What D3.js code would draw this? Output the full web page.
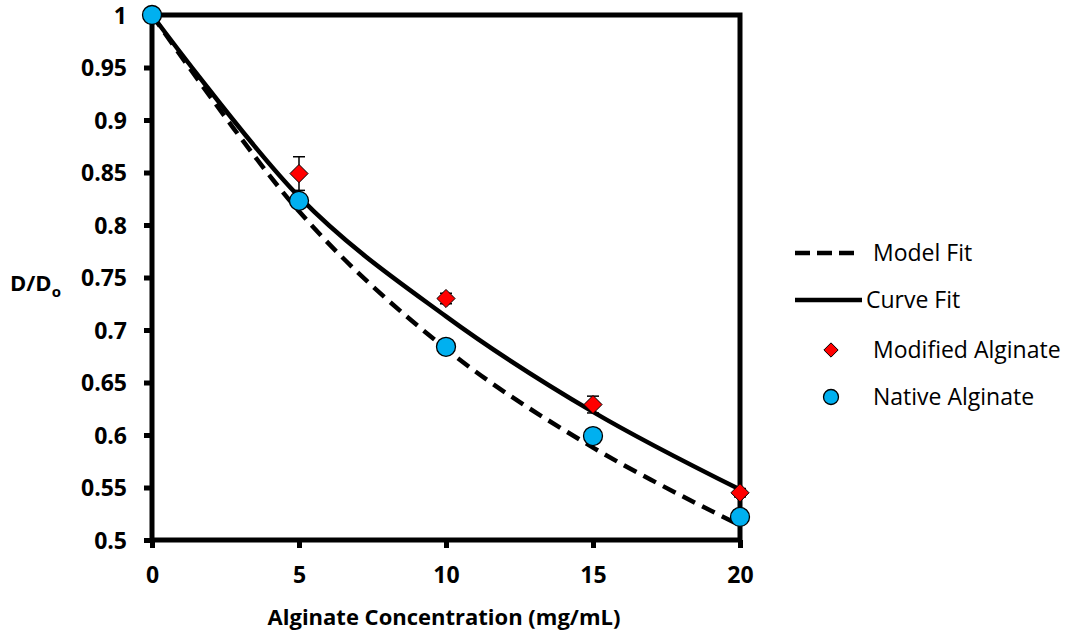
<!DOCTYPE html>
<html>
<head>
<meta charset="utf-8">
<script src="https://cdn.jsdelivr.net/npm/d3@7"></script>
<style>
  html, body { margin: 0; padding: 0; background: #fff; }
  svg { display: block; }
  text { font-family: "Open Sans", "DejaVu Sans", sans-serif; fill: #000; }
</style>
</head>
<body>
<svg id="chart" width="1070" height="632"></svg>
<script>
// Alginate concentration (mg/mL) for the measured points
const concentrations = [0, 5, 10, 15, 20];
// Relative diffusivity D/Do
const nativeValues   = [1.0, 0.823, 0.684, 0.599, 0.522];
const modifiedValues = [1.0, 0.849, 0.730, 0.629, 0.545];
const modifiedErrors = [0.004, 0.016, 0.005, 0.008, 0.004];

// Fitted curves at the same concentrations (drawn as smoothed lines)
const fitConcentrations = [0, 5, 10, 15, 20];
const modelFit = [1.0, 0.813, 0.682, 0.588, 0.514];
const curveFit = [1.0, 0.827, 0.713, 0.622, 0.548];

const xTicks = [0, 5, 10, 15, 20];
const yTicks = [0.5, 0.55, 0.6, 0.65, 0.7, 0.75, 0.8, 0.85, 0.9, 0.95, 1];

const legendItems = ["Model Fit", "Curve Fit", "Modified Alginate", "Native Alginate"];

const svg = d3.select("#chart");
const plot = { left: 152, right: 740, top: 15, bottom: 540 };

const x = d3.scaleLinear().domain([0, 20]).range([plot.left, plot.right]);
const y = d3.scaleLinear().domain([0.5, 1]).range([plot.bottom, plot.top]);

// Axes with outward ticks
const yAxis = d3.axisLeft(y).tickValues(yTicks).tickSize(8).tickFormat(d => String(+d.toFixed(2)));
const xAxis = d3.axisBottom(x).tickValues(xTicks).tickSize(8);

const gy = svg.append("g").attr("transform", `translate(${plot.left},0)`).call(yAxis);
const gx = svg.append("g").attr("transform", `translate(0,${plot.bottom})`).call(xAxis);

[gy, gx].forEach(g => {
  g.select(".domain").remove();
  g.selectAll(".tick line").attr("stroke", "#000").attr("stroke-width", 5);
  g.selectAll(".tick text")
    .style("font-family", '"Open Sans", sans-serif')
    .style("font-weight", "bold")
    .style("font-size", "23px")
    .attr("fill", "#000");
});
gy.selectAll(".tick text").attr("x", -25).attr("dy", "0.35em");
gx.selectAll(".tick text").attr("y", 27).attr("dy", "0.71em");

// Plot frame
svg.append("rect")
  .attr("x", plot.left).attr("y", plot.top)
  .attr("width", plot.right - plot.left).attr("height", plot.bottom - plot.top)
  .attr("fill", "none").attr("stroke", "#000").attr("stroke-width", 5);

// Fit curves, smoothed through the fitted values
const line = d3.line()
  .x((d, i) => x(fitConcentrations[i]))
  .y(d => y(d))
  .curve(d3.curveCardinal.tension(0));

svg.append("path").datum(modelFit)
  .attr("d", line).attr("fill", "none")
  .attr("stroke", "#000").attr("stroke-width", 4.5)
  .attr("stroke-dasharray", "14,8");

svg.append("path").datum(curveFit)
  .attr("d", line).attr("fill", "none")
  .attr("stroke", "#000").attr("stroke-width", 4.5);

// Modified alginate: error bars + diamonds
const diamond = d3.symbol().type(d3.symbolDiamond2).size(210);
const modG = svg.append("g");
concentrations.forEach((c, i) => {
  const cx = x(c), v = modifiedValues[i], e = modifiedErrors[i];
  modG.append("line").attr("x1", cx).attr("x2", cx)
    .attr("y1", y(v - e)).attr("y2", y(v + e))
    .attr("stroke", "#000").attr("stroke-width", 1.5);
  [v - e, v + e].forEach(w => {
    modG.append("line").attr("x1", cx - 6).attr("x2", cx + 6)
      .attr("y1", y(w)).attr("y2", y(w))
      .attr("stroke", "#000").attr("stroke-width", 1.5);
  });
  modG.append("path").attr("d", diamond)
    .attr("transform", `translate(${cx},${y(v)})`)
    .attr("fill", "#ff0000").attr("stroke", "#000").attr("stroke-width", 1);
});

// Native alginate circles
svg.append("g").selectAll("circle")
  .data(concentrations)
  .join("circle")
  .attr("cx", d => x(d))
  .attr("cy", (d, i) => y(nativeValues[i]))
  .attr("r", 9.5)
  .attr("fill", "#00b0f0").attr("stroke", "#000").attr("stroke-width", 1.3);

// Axis titles
svg.append("text")
  .attr("x", (plot.left + plot.right) / 2 - 2).attr("y", 625)
  .attr("text-anchor", "middle")
  .style("font-weight", "bold").style("font-size", "22px")
  .text("Alginate Concentration (mg/mL)");

const yTitle = svg.append("text")
  .attr("x", 10).attr("y", 291)
  .style("font-weight", "bold").style("font-size", "22px");
yTitle.append("tspan").text("D/D");
yTitle.append("tspan").attr("dy", 6).style("font-size", "15px").text("o");

// Legend
const legendY = [253, 300, 350, 397];
const lg = svg.append("g");
lg.append("line").attr("x1", 795).attr("x2", 858).attr("y1", legendY[0]).attr("y2", legendY[0])
  .attr("stroke", "#000").attr("stroke-width", 4.5).attr("stroke-dasharray", "15,7");
lg.append("line").attr("x1", 795).attr("x2", 862).attr("y1", legendY[1]).attr("y2", legendY[1])
  .attr("stroke", "#000").attr("stroke-width", 4.5);
lg.append("path").attr("d", d3.symbol().type(d3.symbolDiamond2).size(130))
  .attr("transform", `translate(831,${legendY[2]})`)
  .attr("fill", "#ff0000").attr("stroke", "#000").attr("stroke-width", 1);
lg.append("circle").attr("cx", 831).attr("cy", legendY[3]).attr("r", 7.5)
  .attr("fill", "#00b0f0").attr("stroke", "#000").attr("stroke-width", 1.3);

lg.selectAll("text.legend")
  .data(legendItems)
  .join("text")
  .attr("class", "legend")
  .attr("x", (d, i) => i === 1 ? 866 : 873)
  .attr("y", (d, i) => legendY[i])
  .attr("dy", "0.35em")
  .style("font-size", "23px")
  .text(d => d);
</script>
</body>
</html>
